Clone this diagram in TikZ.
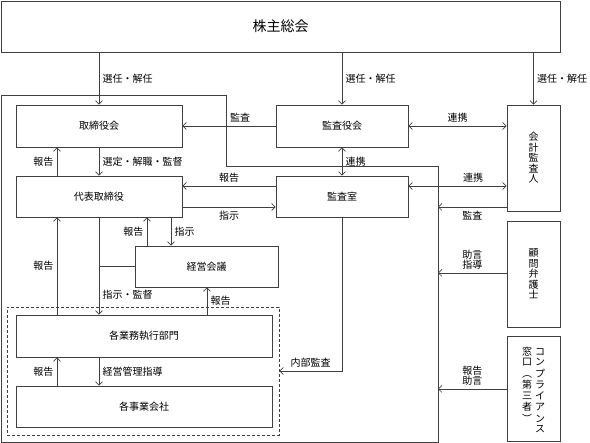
\documentclass[tikz,border=0pt]{standalone}
\usepackage{fontspec}
\setmainfont{Noto Sans CJK JP}
\usetikzlibrary{arrows.meta}

\begin{document}
\begin{tikzpicture}[x=1pt,y=-1pt,
    font=\fontsize{10}{12}\selectfont,
    box/.style={draw=black!75, line width=.7pt, inner sep=0pt},
    line/.style={draw=black!75, line width=.7pt},
    arr/.style={line, -{Straight Barb[length=3.5pt,width=7pt]}},
    arr2/.style={line, {Straight Barb[length=3.5pt,width=7pt]}-{Straight Barb[length=3.5pt,width=7pt]}},
    tate/.style={align=center, font=\fontsize{10}{10.5}\selectfont}]
      \useasboundingbox (0,0) rectangle (590,443);

      % boxes
      \node[box, minimum width=559pt, minimum height=51pt, font=\fontsize{14}{16}\selectfont] (kabunushi) at (280.5,26.5) {株主総会};
      \node[box, minimum width=166pt, minimum height=42pt] (torishimari) at (99,126) {取締役会};
      \node[box, minimum width=166pt, minimum height=41pt] (daihyo) at (99,196.5) {代表取締役};
      \node[box, minimum width=132pt, minimum height=42pt] (kansayaku) at (342,126) {監査役会};
      \node[box, minimum width=132pt, minimum height=41pt] (kansashitsu) at (342,196.5) {監査室};
      \node[box, minimum width=143pt, minimum height=41pt] (keiei) at (206.5,266.5) {経営会議};
      \node[box, minimum width=256pt, minimum height=42pt] (gyomu) at (144,336) {各業務執行部門};
      \node[box, minimum width=256pt, minimum height=41pt] (jigyo) at (144,406.5) {各事業会社};
      \node[box, dash pattern=on 3pt off 2pt, minimum width=272pt, minimum height=128pt] (group) at (143,371) {};

      \node[box, minimum width=53pt, minimum height=106pt, tate] (kaikei) at (533.5,158) {会\\計\\監\\査\\人};
      \node[box, minimum width=53pt, minimum height=106pt, tate] (komon) at (533.5,274) {顧\\問\\弁\\護\\士};
      \node[box, minimum width=53pt, minimum height=105pt, anchor=north] (compliance) at (533.5,336) {};
      \node[font=\fontsize{10}{10}\selectfont, inner sep=0pt, anchor=north] (compliancetext) at (533.5,347)
        {\renewcommand{\arraystretch}{1}%
         \begin{tabular}[t]{@{}c@{\hspace{3pt}}c@{}}
          窓 & コ\\ 口 & ン\\ ︵ & プ\\ 第 & ラ\\ 三 & イ\\ 者 & ア\\ ︶ & ン\\ & ス
        \end{tabular}};

      % company frame
      \draw[line] (1.5,95.5) -- (226,95.5) -- (226,166) -- (438,166) -- (438,442) -- (1.5,442) -- cycle;

      \coordinate (fA) at (438,207);
      \coordinate (fB) at (438,273);
      \coordinate (fC) at (438,389);
      \coordinate (yR) at (0,186);
      \coordinate (yS) at (0,207);
      \coordinate (yN) at (0,371);
      \coordinate (xL) at (57,0);
      \coordinate (xP) at (147,0);
      \coordinate (xQ) at (171,0);
      \coordinate (xR) at (207,0);

      % shareholders
      \draw[arr] (kabunushi.south -| torishimari.north) -- (torishimari.north) node[midway,right] {選任・解任};
      \draw[arr] (kabunushi.south -| kansayaku.north) -- (kansayaku.north) node[midway,right] {選任・解任};
      \draw[arr] (kabunushi.south -| kaikei.north) -- (kaikei.north) node[midway,right] {選任・解任};

      % audit
      \draw[arr] (kansayaku.west) -- (torishimari.east) node[pos=.38,above] {監査};
      \draw[arr2] (kansayaku.east) -- (kansayaku.east -| kaikei.west) node[midway,above] {連携};
      \draw[arr2] (kansayaku.south) -- (kansashitsu.north) node[midway,right] {連携};
      \draw[arr2] (kansashitsu.east |- yR) -- (kaikei.west |- yR) node[pos=.66,above] {連携};
      \draw[arr] (kansashitsu.west |- yR) -- (daihyo.east |- yR) node[midway,above] {報告};
      \draw[arr] (daihyo.east |- yS) -- (kansashitsu.west |- yS) node[midway,below] {指示};
      \draw[arr] (kansashitsu.south) |- (group.east |- yN) node[pos=.75,above] {内部監査};

      % outside
      \draw[arr] (kaikei.west |- fA) -- (fA) node[midway,below] {監査};
      \draw[arr] (komon.west |- fB) -- (fB) node[midway,above,align=center,font=\fontsize{10}{10}\selectfont] {助言\\指導};
      \draw[arr] (compliance.west |- fC) -- (fC) node[midway,above,align=center,font=\fontsize{10}{10}\selectfont] {報告\\助言};

      % management
      \draw[arr] (torishimari.south) -- (daihyo.north) node[midway,right] {選定・解職・監督};
      \draw[arr] (daihyo.north -| xL) -- (torishimari.south -| xL) node[midway,left] {報告};
      \draw[arr] (gyomu.north -| xL) -- (daihyo.south -| xL) node[midway,left] {報告};
      \draw[arr] (daihyo.south) -- (gyomu.north -| daihyo.south) node[pos=.8,right] {指示・監督};
      \draw[line] (keiei.west) -- (keiei.west -| daihyo.south);
      \draw[arr] (keiei.north -| xP) -- (daihyo.south -| xP) node[midway,left] {報告};
      \draw[arr] (daihyo.south -| xQ) -- (keiei.north -| xQ) node[midway,right] {指示};
      \draw[arr] (gyomu.north -| xR) -- (keiei.south -| xR) node[midway,right] {報告};
      \draw[arr] (gyomu.south -| daihyo.south) -- (jigyo.north -| daihyo.south) node[midway,right] {経営管理指導};
      \draw[arr] (jigyo.north -| xL) -- (gyomu.south -| xL) node[midway,left] {報告};
    \end{tikzpicture}
\end{document}
